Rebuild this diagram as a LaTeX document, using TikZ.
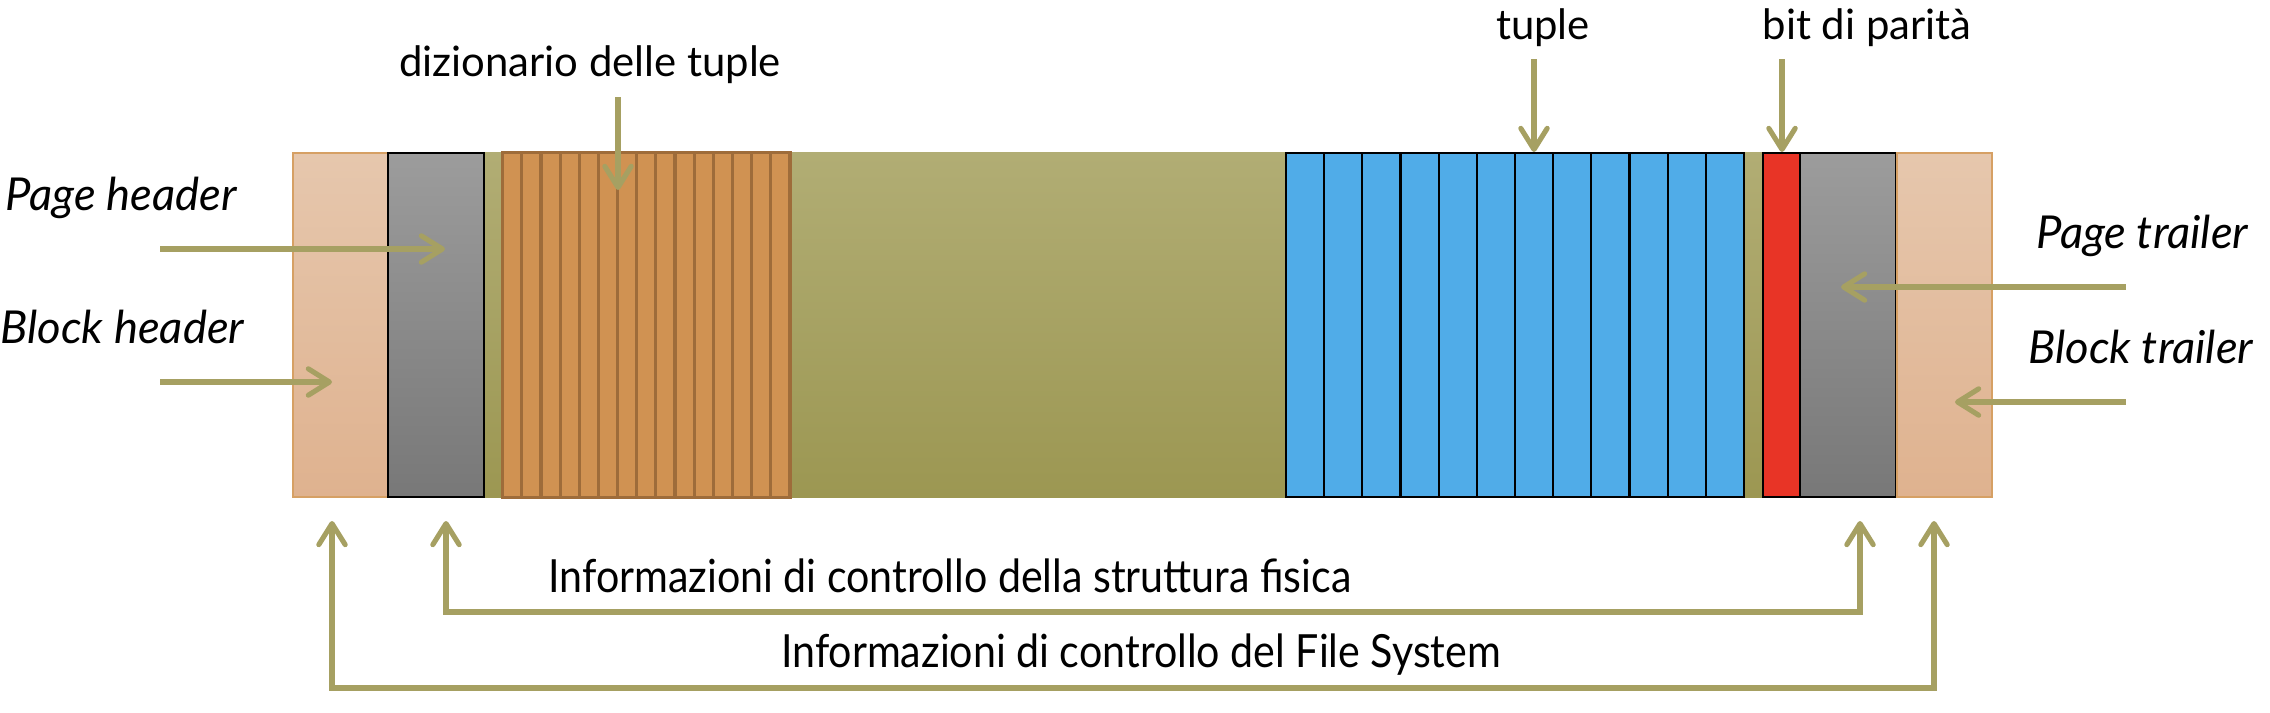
\documentclass[tikz,border=0pt]{standalone}
\usepackage{fontspec}
\setmainfont{Lato}
\newfontfamily\condfont[FakeStretch=0.9]{Lato}
\usetikzlibrary{arrows.meta}
\definecolor{arr}{RGB}{166,160,98}
\definecolor{bandtop}{RGB}{177,173,116}
\definecolor{bandbot}{RGB}{156,151,82}
\definecolor{graytop}{RGB}{156,156,156}
\definecolor{graybot}{RGB}{120,120,120}
\definecolor{salmtop}{RGB}{230,199,173}
\definecolor{salmbot}{RGB}{223,178,143}
\definecolor{salmline}{RGB}{214,160,100}
\definecolor{dictfill}{RGB}{208,146,82}
\definecolor{dictline}{RGB}{158,108,58}
\definecolor{tupfill}{RGB}{80,172,232}
\definecolor{parfill}{RGB}{232,52,38}
\begin{document}
\begin{tikzpicture}[x=0.01cm,y=-0.01cm,
  cell/.style={rectangle, inner sep=0, minimum height=3.44cm},
  salmbox/.style={cell, draw=salmline, line width=0.5pt, top color=salmtop, bottom color=salmbot, minimum width=0.955cm},
  graybox/.style={cell, draw=black, line width=0.6pt, top color=graytop, bottom color=graybot, minimum width=0.96cm},
  bandbox/.style={cell, top color=bandtop, bottom color=bandbot, minimum width=13.16cm},
  dictcell/.style={cell, draw=dictline, line width=0.9pt, fill=dictfill, minimum width=0.1915cm},
  tupcell/.style={cell, draw=black, line width=0.6pt, fill=tupfill, minimum width=0.3817cm},
  parbox/.style={cell, draw=black, line width=0.6pt, fill=parfill, minimum width=0.37cm},
  lbl/.style={inner sep=0, font=\fontsize{11.9pt}{14pt}\selectfont},
  ilbl/.style={inner sep=0, font=\fontsize{12.9pt}{15pt}\selectfont\itshape},
  clbl/.style={inner sep=0, font=\fontsize{13pt}{15pt}\selectfont\condfont},
  arrow/.style={draw=arr, line width=1.45pt, -{Straight Barb[round, length=6pt, width=7.5pt]}},
  darrow/.style={draw=arr, line width=1.45pt, {Straight Barb[round, length=6pt, width=7.5pt]}-{Straight Barb[round, length=6pt, width=7.5pt]}}
]
\useasboundingbox (0,0) rectangle (2270,712);

% background band
\node[bandbox] (band) at (1142,325) {};

% left side
\node[salmbox] (lh) at (340.5,325) {};
\node[graybox] (lg) at (436,325) {};

% dictionary
\foreach \i in {1,...,15}
  \node[dictcell] (d\i) at ({502.7+19.15*(\i-0.5)},325) {};

% tuples
\foreach \i in {1,...,12}
  \node[tupcell] (t\i) at ({1286+38.17*(\i-0.5)},325) {};

% parity, right side
\node[parbox] (par) at (1781.5,325) {};
\node[graybox] (rg) at (1848,325) {};
\node[salmbox] (rt) at (1944.5,325) {};

% labels
\node[lbl, anchor=base] (tdict) at (590,77) {dizionario delle tuple};
\node[lbl, anchor=base] (ttuple) at (1543,39) {tuple};
\node[lbl, anchor=base] (tbit) at (1867,39) {bit di parità};
\node[ilbl, anchor=base west] (tph) at (5,210) {Page header};
\node[ilbl, anchor=base west] (tbh) at (0,343) {Block header};
\node[ilbl, anchor=base east] (tpt) at (2249,248) {Page trailer};
\node[ilbl, anchor=base east] (tbt) at (2254,363) {Block trailer};
\node[clbl, anchor=base] (tfis) at (950,592) {Informazioni di controllo della struttura fisica};
\node[clbl, anchor=base] (tfs) at (1141,667) {Informazioni di controllo del File System};

% arrow end points
\coordinate (phs) at (160,249);  \coordinate (phe) at (445,249);
\coordinate (bhs) at (160,382);  \coordinate (bhe) at (332,382);
\coordinate (dis) at (618,97);   \coordinate (die) at (618,190);
\coordinate (tus) at (1534,59);  \coordinate (tue) at (1534,152);
\coordinate (bis) at (1782,59);  \coordinate (bie) at (1782,152);
\coordinate (pts) at (2126,287); \coordinate (pte) at (1841,287);
\coordinate (bts) at (2126,402); \coordinate (bte) at (1955,402);
\coordinate (fil) at (446,521);  \coordinate (fir) at (1860,521);
\coordinate (fsl) at (332,521);  \coordinate (fsr) at (1934,521);

\draw[arrow] (phs) -- (phe);
\draw[arrow] (bhs) -- (bhe);
\draw[arrow] (dis) -- (die);
\draw[arrow] (tus) -- (tue);
\draw[arrow] (bis) -- (bie);
\draw[arrow] (pts) -- (pte);
\draw[arrow] (bts) -- (bte);
\draw[darrow] (fil) -- (446,612) -- (1860,612) -- (fir);
\draw[darrow] (fsl) -- (332,688) -- (1934,688) -- (fsr);
\end{tikzpicture}
\end{document}
